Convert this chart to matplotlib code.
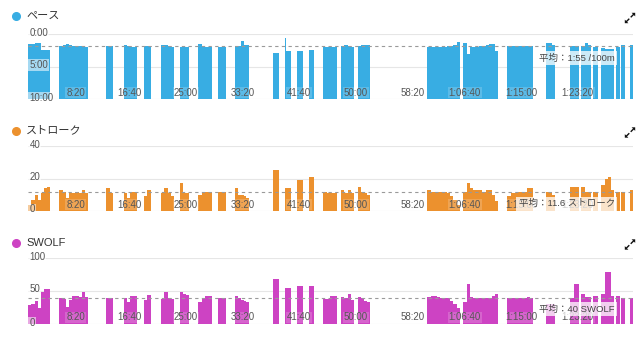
import numpy as np
import matplotlib
matplotlib.use("Agg")
import matplotlib.pyplot as plt
from matplotlib.lines import Line2D
from matplotlib.patches import Polygon

plt.rcParams['font.family'] = ['Liberation Sans', 'Noto Sans CJK JP', 'DejaVu Sans']

# Swim sets: start / end time (s) of each block of lengths
set_start = [0, 273, 690, 841, 1022, 1172, 1343, 1502, 1679, 1827, 2167, 2266, 2274,
             2375, 2478, 2607, 2764, 2910, 3527, 3847, 4236, 4581, 4793, 4890, 4996,
             5067, 5196, 5244, 5315]
set_end = [191, 530, 751, 960, 1084, 1290, 1420, 1623, 1747, 1953, 2218, 2274, 2326,
           2428, 2528, 2733, 2879, 3020, 3816, 4155, 4464, 4656, 4864, 4974, 5036,
           5178, 5232, 5275, 5346]

# Pace per length (seconds / 100m)
pace = [
    [92, 92, 86, 80, 148, 148, 148],
    [112, 100, 90, 100, 108, 108, 112, 118, 122],
    [110, 112],
    [97, 108, 118, 120],
    [108, 112],
    [104, 105, 110, 117],
    [118, 120, 120],
    [94, 110, 118, 120],
    [120, 120],
    [113, 110, 66, 97, 97],
    [175, 175],
    [33],
    [159, 159],
    [159, 159],
    [150, 150],
    [120, 118, 120, 122],
    [110, 97, 112, 118],
    [110, 100, 98, 97],
    [124, 122, 120, 118, 118, 116, 115, 108, 100, 76],
    [83, 180, 120, 118, 116, 112, 108, 104, 95, 90, 156],
    [113, 112, 112, 113, 112, 112, 112, 113],
    [85, 85, 104],
    [110, 110],
    [113, 85, 104],
    [118],
    [130, 134, 136, 134],
    [120],
    [104],
    [104],
]

# Strokes per length
strokes = [
    [4, 7, 10, 7, 11, 14, 15],
    [13, 12, 8, 11, 11, 12, 11, 13, 11],
    [14, 11],
    [11, 8, 12, 12],
    [9, 13],
    [11, 14, 11, 9],
    [17, 11, 11],
    [10, 12, 12, 12],
    [12, 12],
    [14, 10, 10, 9, 8],
    [25, 25],
    [14],
    [14, 14],
    [19, 19],
    [21, 21],
    [12, 11, 11, 11],
    [13, 11, 13, 11],
    [15, 12, 11, 10],
    [13, 12, 12, 12, 12, 12, 11, 9, 7, 4],
    [12, 17, 14, 13, 13, 13, 12, 13, 13, 10, 6],
    [9, 11, 11, 12, 12, 12, 14, 14],
    [12, 12, 10],
    [15, 15],
    [15, 12, 12],
    [12],
    [16, 20, 21, 13],
    [12],
    [12],
    [13],
]

# SWOLF per length
swolf = [
    [29, 30, 35, 25, 49, 53, 53],
    [40, 38, 26, 36, 42, 42, 41, 49, 41],
    [40, 40],
    [39, 34, 42, 42],
    [36, 44],
    [38, 48, 40, 38],
    [48, 45, 44],
    [33, 40, 43, 43],
    [40, 40],
    [42, 40, 37, 35, 33],
    [68, 68],
    [54],
    [54, 54],
    [58, 58],
    [58, 58],
    [38, 38, 42, 43],
    [41, 39, 45, 37],
    [41, 39, 35, 33],
    [41, 43, 42, 41, 40, 40, 39, 35, 30, 24],
    [34, 60, 41, 39, 39, 39, 39, 39, 40, 42, 46],
    [39, 39, 39, 39, 40, 40, 41, 40],
    [31, 31, 31],
    [40, 61],
    [45, 41, 41],
    [43],
    [46, 79, 79, 42],
    [43],
    [40],
    [40],
]

avg_pace = 115          # 1:55 /100m
avg_strokes = 11.6
avg_swolf = 40

x_ticks = [500, 1000, 1500, 2000, 2500, 3000, 3500, 4000, 4500, 5000]
x_tick_labels = ["8:20", "16:40", "25:00", "33:20", "41:40", "50:00", "58:20",
                 "1:06:40", "1:15:00", "1:23:20"]
x_max = 5345

panels = [
    dict(title="ペース", color="#38ADE3", values=pace, ylim=(600, 0),
         yticks=[0, 300, 600], ylabels=["0:00", "5:00", "10:00"], base=600,
         avg=avg_pace, avg_text="平均：1:55 /100m"),
    dict(title="ストローク", color="#EC912E", values=strokes, ylim=(0, 40),
         yticks=[40, 20, 0], ylabels=["40", "20", "0"], base=0,
         avg=avg_strokes, avg_text="平均：11.6 ストローク"),
    dict(title="SWOLF", color="#CD43C3", values=swolf, ylim=(0, 100),
         yticks=[100, 50, 0], ylabels=["100", "50", "0"], base=0,
         avg=avg_swolf, avg_text="平均：40 SWOLF"),
]

W, H = 640, 340
fig = plt.figure(figsize=(W / 100, H / 100), dpi=100)
fig.patch.set_facecolor("white")

# plot areas in pixel rows (top gridline, baseline) and title rows
rows = [(34, 99, 16), (146, 211, 130.5), (258, 324, 242.5)]
left_px, right_px = 28.4, 632.9

label_color = "#555555"


def expand_icon(cx, cy):
    """Small two-headed diagonal 'expand' glyph centred on (cx, cy)."""
    y = H - cy
    to_fig = lambda px, py: (px / W, py / H)
    for d in (1, -1):
        # shaft
        fig.add_artist(Line2D([(cx + 1.2 * d) / W, (cx + 3.5 * d) / W],
                              [(y + 1.2 * d) / H, (y + 3.5 * d) / H],
                              color="#111111", lw=1.0, transform=fig.transFigure))
        # triangular head in the corner
        tip = (cx + 5.2 * d, y + 5.2 * d)
        pts = [to_fig(*tip), to_fig(tip[0] - 3.6 * d, tip[1]), to_fig(tip[0], tip[1] - 3.6 * d)]
        fig.add_artist(Polygon(pts, closed=True, fc="#111111", ec="none",
                               transform=fig.transFigure))


for p, (top, bot, ty) in zip(panels, rows):
    ax = fig.add_axes([left_px / W, 1 - bot / H, (right_px - left_px) / W, (bot - top) / H])
    ax.set_xlim(0, x_max)
    ax.set_ylim(*p["ylim"])
    for s in ax.spines.values():
        s.set_visible(False)
    ax.set_xticks([])
    ax.set_yticks([])
    ax.patch.set_alpha(0)

    for yv in p["yticks"]:
        ax.axhline(yv, color="#e6e6e6", lw=0.8, zorder=0)

    for s0, s1, vals in zip(set_start, set_end, p["values"]):
        n = len(vals)
        w = (s1 - s0) / n
        lefts = s0 + w * np.arange(n)
        vals = np.asarray(vals, dtype=float)
        ax.bar(lefts, vals - p["base"], bottom=p["base"], width=w, align="edge",
               color=p["color"], linewidth=0, zorder=2)

    ax.axhline(p["avg"], color="#9a9a9a", lw=0.8, ls=(0, (3, 3)), zorder=3)

    for yv, lab in zip(p["yticks"], p["ylabels"]):
        ax.annotate(lab, xy=(0, yv), xycoords=("axes fraction", "data"),
                    xytext=(1, 1.5), textcoords="offset pixels",
                    ha="left", va="center", fontsize=7, color=label_color, zorder=5,
                    bbox=dict(boxstyle="square,pad=0.1", fc="white", ec="none", alpha=0.55))

    for xv, lab in zip(x_ticks, x_tick_labels):
        ax.annotate(lab, xy=(xv, 0), xycoords=("data", "axes fraction"),
                    xytext=(0, 6.5), textcoords="offset pixels",
                    ha="right", va="center", fontsize=7, color=label_color, zorder=5,
                    bbox=dict(boxstyle="square,pad=0.1", fc="white", ec="none", alpha=0.18))

    ax.annotate(p["avg_text"], xy=(1, p["avg"]), xycoords=("axes fraction", "data"),
                xytext=(-18, -11.5), textcoords="offset pixels",
                ha="right", va="center", fontsize=6.8, color="#444444", zorder=6,
                bbox=dict(boxstyle="square,pad=0.25", fc="white", ec="none", alpha=0.75))

    fig.add_artist(Line2D([16 / W], [1 - ty / H], marker="o", markersize=5.5,
                          color=p["color"], transform=fig.transFigure))
    fig.text(26 / W, 1 - ty / H, p["title"], ha="left", va="center",
             fontsize=8, color="#333333")
    expand_icon(630, ty + 2)

fig.savefig("out.png", dpi=100)
